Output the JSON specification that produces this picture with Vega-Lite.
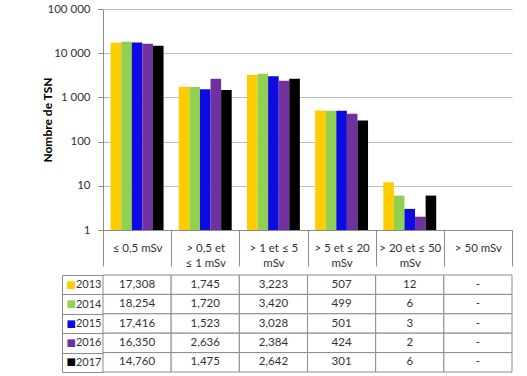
{
  "$schema": "https://vega.github.io/schema/vega-lite/v6.json",
  "padding": {"left": 41, "top": 3, "right": 5, "bottom": 5},
  "background": "white",
  "datasets": {
    "doses": [
      {"cat": "≤ 0,5 mSv", "year": "2013", "value": 17308},
      {"cat": "≤ 0,5 mSv", "year": "2014", "value": 18254},
      {"cat": "≤ 0,5 mSv", "year": "2015", "value": 17416},
      {"cat": "≤ 0,5 mSv", "year": "2016", "value": 16350},
      {"cat": "≤ 0,5 mSv", "year": "2017", "value": 14760},
      {"cat": "> 0,5 et\n≤ 1 mSv", "year": "2013", "value": 1745},
      {"cat": "> 0,5 et\n≤ 1 mSv", "year": "2014", "value": 1720},
      {"cat": "> 0,5 et\n≤ 1 mSv", "year": "2015", "value": 1523},
      {"cat": "> 0,5 et\n≤ 1 mSv", "year": "2016", "value": 2636},
      {"cat": "> 0,5 et\n≤ 1 mSv", "year": "2017", "value": 1475},
      {"cat": "> 1 et ≤ 5\nmSv", "year": "2013", "value": 3223},
      {"cat": "> 1 et ≤ 5\nmSv", "year": "2014", "value": 3420},
      {"cat": "> 1 et ≤ 5\nmSv", "year": "2015", "value": 3028},
      {"cat": "> 1 et ≤ 5\nmSv", "year": "2016", "value": 2384},
      {"cat": "> 1 et ≤ 5\nmSv", "year": "2017", "value": 2642},
      {"cat": "> 5 et ≤ 20\nmSv", "year": "2013", "value": 507},
      {"cat": "> 5 et ≤ 20\nmSv", "year": "2014", "value": 499},
      {"cat": "> 5 et ≤ 20\nmSv", "year": "2015", "value": 501},
      {"cat": "> 5 et ≤ 20\nmSv", "year": "2016", "value": 424},
      {"cat": "> 5 et ≤ 20\nmSv", "year": "2017", "value": 301},
      {"cat": "> 20 et ≤ 50\nmSv", "year": "2013", "value": 12},
      {"cat": "> 20 et ≤ 50\nmSv", "year": "2014", "value": 6},
      {"cat": "> 20 et ≤ 50\nmSv", "year": "2015", "value": 3},
      {"cat": "> 20 et ≤ 50\nmSv", "year": "2016", "value": 2},
      {"cat": "> 20 et ≤ 50\nmSv", "year": "2017", "value": 6},
      {"cat": "> 50 mSv", "year": "2013", "value": null},
      {"cat": "> 50 mSv", "year": "2014", "value": null},
      {"cat": "> 50 mSv", "year": "2015", "value": null},
      {"cat": "> 50 mSv", "year": "2016", "value": null},
      {"cat": "> 50 mSv", "year": "2017", "value": null}
    ]
  },
  "data": {"name": "doses"},
  "spacing": 0,
  "vconcat": [
    {
      "width": 409,
      "height": 221,
      "mark": {"type": "bar"},
      "encoding": {
        "x": {
          "field": "cat", "type": "nominal", "sort": null,
          "scale": {"domain": ["≤ 0,5 mSv", "> 0,5 et\n≤ 1 mSv", "> 1 et ≤ 5\nmSv", "> 5 et ≤ 20\nmSv", "> 20 et ≤ 50\nmSv", "> 50 mSv"], "paddingInner": 0, "paddingOuter": 0},
          "axis": {
            "title": null, "labelAngle": 0, "tickBand": "extent", "tickSize": 36,
            "tickColor": "#8c8c8c", "domainColor": "#8c8c8c", "grid": false,
            "labelPadding": -18, "labelBaseline": "middle",
            "labelExpr": "split(datum.label, '\\n')",
            "labelFont": "Lato", "labelFontSize": 11.5, "labelLineHeight": 15, "labelColor": "#333333"
          }
        },
        "xOffset": {"field": "year", "type": "nominal", "scale": {"paddingInner": 0, "paddingOuter": 0.72}},
        "y": {
          "field": "value", "type": "quantitative", "stack": null,
          "scale": {"type": "log", "domain": [1, 100000]},
          "axis": {
            "title": "Nombre de TSN", "titleFont": "Lato", "titleFontSize": 12, "titleFontWeight": "bold", "titleColor": "#000000", "titlePadding": -7,
            "values": [1, 10, 100, 1000, 10000, 100000],
            "labelExpr": "replace(format(datum.value, ','), ',', ' ')",
            "labelFont": "Lato", "labelFontSize": 11.5, "labelColor": "#333333", "labelPadding": 8,
            "grid": true, "gridColor": "#bfbfbf", "domainColor": "#8c8c8c", "tickColor": "#8c8c8c", "tickSize": 5
          }
        },
        "color": {
          "field": "year", "type": "nominal",
          "scale": {"domain": ["2013", "2014", "2015", "2016", "2017"], "range": ["#FFCC00", "#92D050", "#0C0CE0", "#7030A0", "#000000"]},
          "legend": null
        }
      }
    },
    {
      "width": 409,
      "height": 97,
      "layer": [
        {
          "mark": {"type": "rect", "fill": "white", "stroke": "#8c8c8c", "strokeWidth": 1},
          "encoding": {
            "x": {
              "field": "cat", "type": "nominal", "sort": null,
              "scale": {"domain": ["≤ 0,5 mSv", "> 0,5 et\n≤ 1 mSv", "> 1 et ≤ 5\nmSv", "> 5 et ≤ 20\nmSv", "> 20 et ≤ 50\nmSv", "> 50 mSv"], "paddingInner": 0, "paddingOuter": 0},
              "axis": null
            },
            "y": {
              "field": "year", "type": "nominal",
              "scale": {"domain": ["2013", "2014", "2015", "2016", "2017"], "paddingInner": 0, "paddingOuter": 0},
              "axis": {
                "orient": "left", "title": null, "domain": false,
                "tickBand": "extent", "tickSize": 41, "tickColor": "#8c8c8c",
                "labelAlign": "right", "labelBaseline": "middle", "labelPadding": -39,
                "labelFont": "Lato", "labelFontSize": 11, "labelColor": "#333333"
              }
            }
          }
        },
        {
          "mark": {"type": "text", "font": "Lato", "fontSize": 11.5, "color": "#333333"},
          "encoding": {
            "x": {"field": "cat", "type": "nominal", "sort": null, "axis": null},
            "y": {
              "field": "year", "type": "nominal",
              "axis": {
                "orient": "left", "title": null, "offset": 41,
                "domain": true, "domainColor": "#8c8c8c", "ticks": false,
                "labelAlign": "left", "labelBaseline": "middle", "labelPadding": -4,
                "labelExpr": "'■'", "labelFont": "DejaVu Sans", "labelFontSize": 10,
                "labelColor": {
                  "condition": [
                    {"test": "datum.value === '2013'", "value": "#FFCC00"},
                    {"test": "datum.value === '2014'", "value": "#92D050"},
                    {"test": "datum.value === '2015'", "value": "#0C0CE0"},
                    {"test": "datum.value === '2016'", "value": "#7030A0"}
                  ],
                  "value": "#000000"
                }
              }
            },
            "text": {"condition": {"test": "datum.value == null", "value": "-"}, "field": "value", "type": "quantitative", "format": ","}
          }
        }
      ],
      "resolve": {"axis": {"y": "independent"}}
    }
  ],
  "config": {"view": {"stroke": null}}
}
